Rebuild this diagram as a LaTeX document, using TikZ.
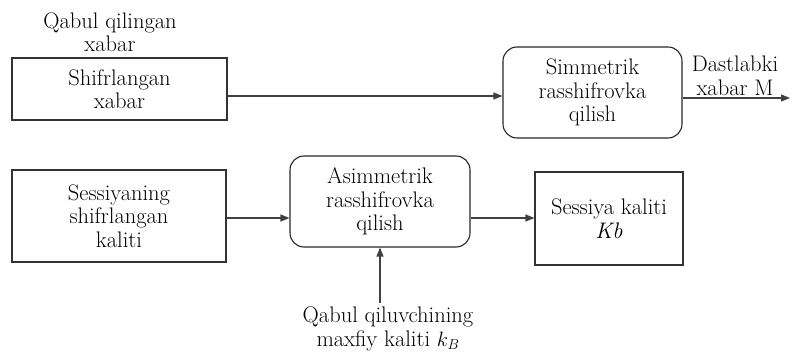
\documentclass[tikz,border=0pt]{standalone}
\usetikzlibrary{arrows.meta}
\begin{document}
\begin{tikzpicture}[x=1pt,y=-1pt,
  every node/.style={font=\fontsize{22.5}{23.5}\selectfont, align=center, inner sep=0pt},
  sqbox/.style={draw=black!80, line width=1.1pt},
  rbox/.style={draw=black!85, line width=1.1pt, rounded corners=14pt},
  conn/.style={draw=black!75, line width=1.1pt, -{Triangle[length=9pt,width=7pt]}}]
\useasboundingbox (0,0) rectangle (794,352);
\node[sqbox, minimum width=215pt, minimum height=62pt] (b1) at (119.5,89) {Shifrlangan\\xabar};
\node (lab1) at (110,32) {Qabul qilingan\\xabar};
\node[rbox, minimum width=179pt, minimum height=91pt] (sym) at (592.5,92.5) {Simmetrik\\rasshifrovka\\qilish};
\node (labM) at (735,76) {Dastlabki\\xabar M};
\node[sqbox, minimum width=214pt, minimum height=92pt] (b3) at (119,216) {Sessiyaning\\shifrlangan\\kaliti};
\node[rbox, minimum width=180pt, minimum height=91pt] (asym) at (380,201.5) {Asimmetrik\\rasshifrovka\\qilish};
\node[sqbox, minimum width=148pt, minimum height=93pt] (sk) at (609,218.5) {Sessiya kaliti\\\textit{Kb}};
\node (labk) at (388,329) {Qabul qiluvchining\\maxfiy kaliti $k_B$};
\coordinate (r1) at (0,96);
\coordinate (r2) at (0,218);
\coordinate (out) at (790,98);
\draw[conn] (b1.east|-r1) -- (sym.west|-r1);
\draw[conn] (sym.east|-out) -- (out);
\draw[conn] (b3.east|-r2) -- (asym.west|-r2);
\draw[conn] (asym.east|-r2) -- (sk.west|-r2);
\draw[conn] (labk.north-|asym.south) ++(0,-4) -- (asym.south);
\end{tikzpicture}
\end{document}
